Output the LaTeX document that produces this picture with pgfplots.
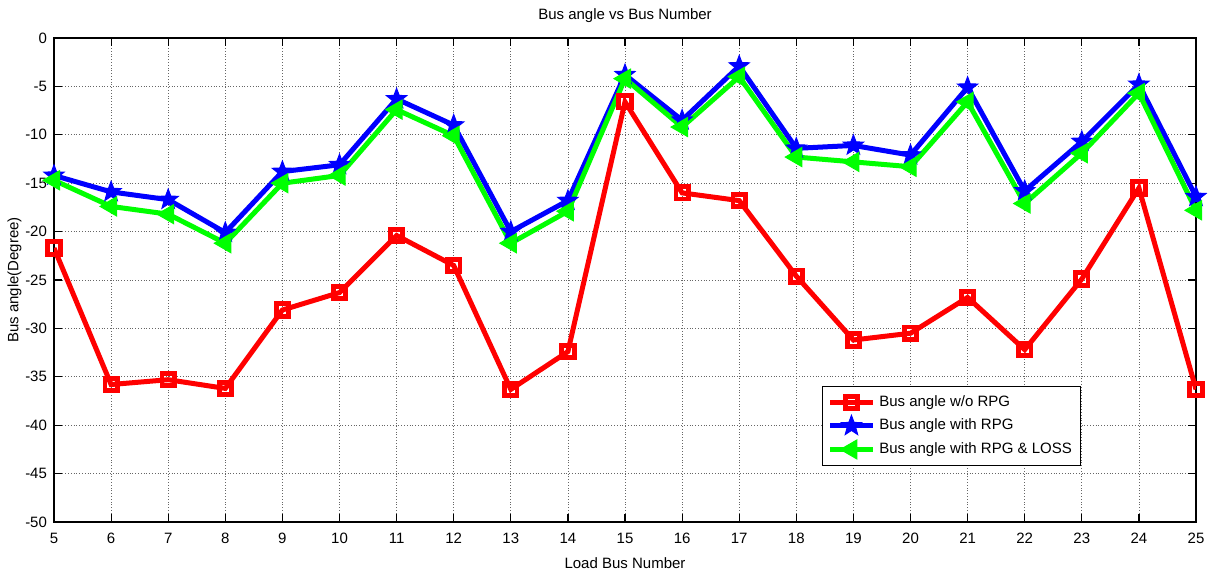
\documentclass[border=0pt]{standalone}
\usepackage{pgfplots}
\pgfplotsset{compat=1.18}
\usepackage{fontspec}
\setmainfont{Liberation Sans}
\pgfdeclareplotmark{fstar}{%
  \pgfpathmoveto{\pgfqpointpolar{90}{\pgfplotmarksize}}%
  \pgfpathlineto{\pgfqpointpolar{126}{0.42\pgfplotmarksize}}%
  \pgfpathlineto{\pgfqpointpolar{162}{\pgfplotmarksize}}%
  \pgfpathlineto{\pgfqpointpolar{198}{0.42\pgfplotmarksize}}%
  \pgfpathlineto{\pgfqpointpolar{234}{\pgfplotmarksize}}%
  \pgfpathlineto{\pgfqpointpolar{270}{0.42\pgfplotmarksize}}%
  \pgfpathlineto{\pgfqpointpolar{306}{\pgfplotmarksize}}%
  \pgfpathlineto{\pgfqpointpolar{342}{0.42\pgfplotmarksize}}%
  \pgfpathlineto{\pgfqpointpolar{18}{\pgfplotmarksize}}%
  \pgfpathlineto{\pgfqpointpolar{54}{0.42\pgfplotmarksize}}%
  \pgfpathclose
  \pgfusepathqfillstroke}
\definecolor{mred}{RGB}{255,0,0}
\definecolor{mblue}{RGB}{0,0,255}
\definecolor{mgreen}{RGB}{0,255,0}
\begin{document}
\begin{tikzpicture}
\begin{axis}[
  name=ax,
  scale only axis,
  width=571pt, height=242pt,
  xmin=5, xmax=25, ymin=-50, ymax=0,
  xtick={5,6,...,25}, ytick={-50,-45,...,0},
  tick align=inside, tick pos=both,
  major tick length=4pt,
  grid=major,
  major grid style={black!60, densely dotted, line width=0.4pt},
  axis line style={black, line width=0.8pt},
  every tick/.style={black, line width=0.6pt},
  font=\fontsize{7.5}{9}\selectfont,
  ticklabel style={font=\fontsize{7.5}{9}\selectfont},
  xticklabel style={yshift=-2pt},
  /pgf/number format/assume math mode=true,
  yticklabel style={/pgf/number format/fixed},
  title={Bus angle vs Bus Number},
  title style={yshift=-2pt},
  xlabel={Load Bus Number},
  ylabel={Bus angle(Degree)},
  xlabel style={yshift=0pt},
  ylabel style={yshift=-5pt},
  legend style={at={(0.6725,0.281)}, anchor=north west, draw=black, line width=0.6pt,
    font=\fontsize{7.5}{9}\selectfont, row sep=0.8pt, inner sep=2.5pt,
    /tikz/every even column/.append style={column sep=2pt}},
  legend cell align=left,
  legend image code/.code={%
    \draw[line width=2.5pt] (0cm,0cm) -- (0.75cm,0cm);
    \draw[mark repeat=2,mark phase=2] plot coordinates {(0cm,0cm) (0.375cm,0cm) (0.75cm,0cm)};},
]
\addplot[mred, line width=2.5pt, mark=square, mark size=3.1pt, mark options={line width=2.4pt}] coordinates {
(5,-21.7) (6,-35.8) (7,-35.3) (8,-36.2) (9,-28.1) (10,-26.3) (11,-20.4) (12,-23.5)
(13,-36.3) (14,-32.4) (15,-6.6) (16,-16.0) (17,-16.8) (18,-24.6) (19,-31.2) (20,-30.5)
(21,-26.8) (22,-32.2) (23,-24.9) (24,-15.5) (25,-36.3)};
\addlegendentry{Bus angle w/o RPG}
\addplot[mblue, line width=2.5pt, mark=fstar, mark size=5.3pt, mark options={fill=mblue, line width=0.5pt}] coordinates {
(5,-14.2) (6,-15.9) (7,-16.7) (8,-20.1) (9,-13.8) (10,-13.1) (11,-6.3) (12,-9.0)
(13,-20.0) (14,-16.8) (15,-3.8) (16,-8.5) (17,-2.9) (18,-11.4) (19,-11.1) (20,-12.1)
(21,-5.1) (22,-15.8) (23,-10.7) (24,-4.8) (25,-16.4)};
\addlegendentry{Bus angle with RPG}
\addplot[mgreen, line width=2.5pt, mark=triangle*, mark size=5.5pt, mark options={rotate=90, fill=mgreen, line width=0.5pt}] coordinates {
(5,-14.7) (6,-17.4) (7,-18.2) (8,-21.2) (9,-15.0) (10,-14.2) (11,-7.4) (12,-10.1)
(13,-21.2) (14,-17.9) (15,-4.2) (16,-9.2) (17,-4.0) (18,-12.3) (19,-12.8) (20,-13.3)
(21,-6.6) (22,-17.1) (23,-11.9) (24,-5.7) (25,-17.8)};
\addlegendentry{Bus angle with RPG \& LOSS}
\end{axis}
\pgfresetboundingbox
\path[use as bounding box] ([xshift=-27pt,yshift=-24pt]ax.south west) rectangle ([xshift=6pt,yshift=19pt]ax.north east);
\end{tikzpicture}
\end{document}
